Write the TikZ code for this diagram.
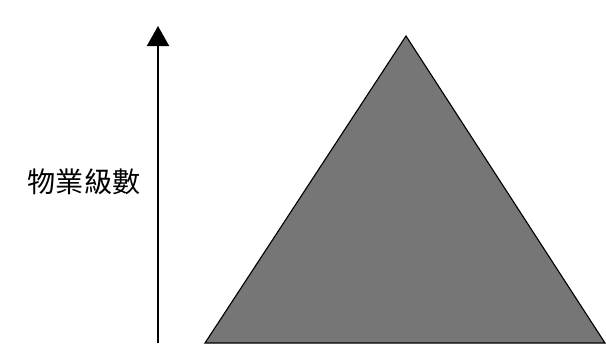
\documentclass[tikz,border=0pt]{standalone}
\usepackage{fontspec}
\newfontfamily\cjk{Noto Sans CJK TC}
\definecolor{PyramidGray}{RGB}{118, 118, 118}
\usetikzlibrary{arrows.meta,positioning}

\begin{document}
\begin{tikzpicture}[
    x=0.025cm, y=-0.025cm,
    axis/.style={-{Triangle[length=5mm, width=5.5mm]}, line width=1.5pt},
    pyramid/.style={fill=PyramidGray, draw=black, line width=0.8pt},
    lbl/.style={font=\cjk\fontsize{20pt}{24pt}\selectfont, inner sep=0pt}
]
    \useasboundingbox (0,0) rectangle (606,343);

    % vertical axis
    \coordinate (base) at (158,343);
    \coordinate (tip) at (158,26);
    \draw[axis] (base) -- (tip);
    \node[lbl] (grade) at (84,182) {物業級數};

    % pyramid
    \coordinate (apex) at (406,36);
    \coordinate (left) at (205,343);
    \coordinate (right) at (605,343);
    \begin{scope}
        \clip (0,0) rectangle (606,343);
        \draw[pyramid] (apex) -- (left) -- (right) -- cycle;
    \end{scope}
\end{tikzpicture}
\end{document}
